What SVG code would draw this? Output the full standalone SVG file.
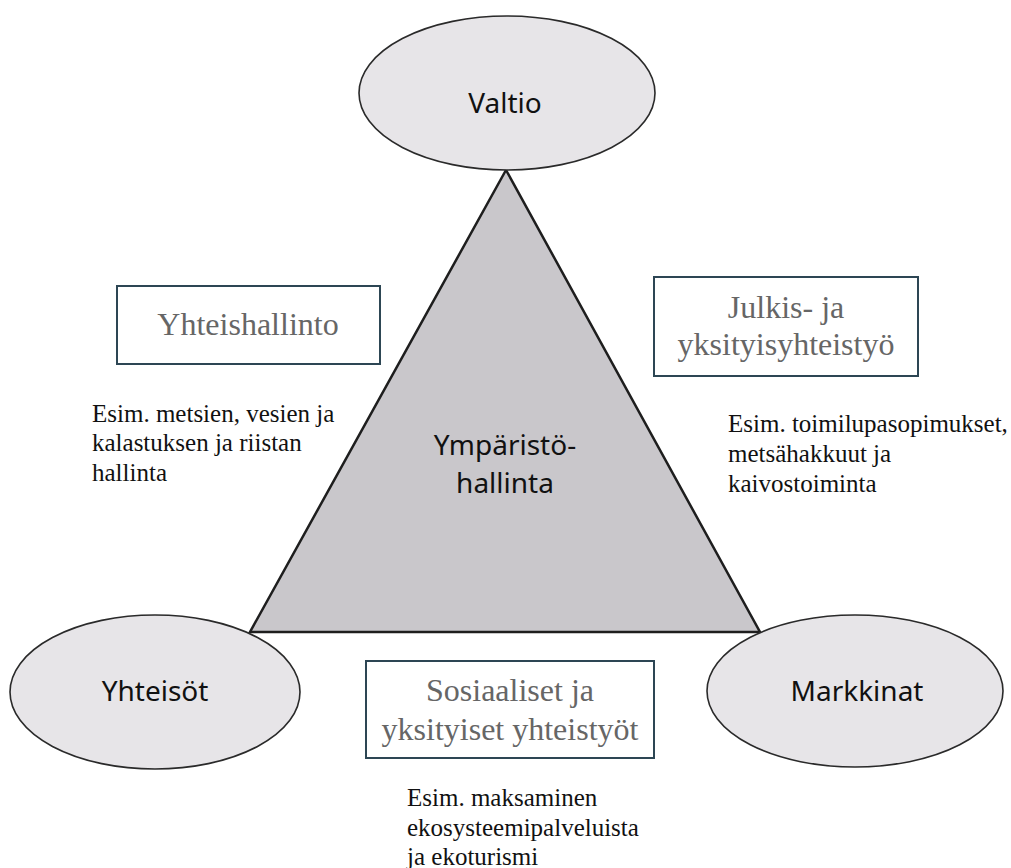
<svg xmlns="http://www.w3.org/2000/svg" width="1011" height="868" viewBox="0 0 1011 868">
<style>
.bg{fill:#ffffff}
.tri{fill:#c9c7cb;stroke:#1e1e1e;stroke-width:2.5;stroke-linejoin:miter}
.ell{fill:#e7e5e8;stroke:#2a2a2a;stroke-width:1.6}
.box{fill:#ffffff;stroke:#2d4654;stroke-width:2}
.lbl{font-family:"Noto Sans","Open Sans",sans-serif;font-size:28px;fill:#111111;text-anchor:middle}
.center{font-family:"Noto Sans","Open Sans",sans-serif;font-size:28px;fill:#111111;text-anchor:middle}
.boxt{font-family:"Liberation Serif","Times New Roman",serif;font-size:32px;fill:#666666;text-anchor:middle}
.body{font-family:"Liberation Serif","Times New Roman",serif;font-size:25px;fill:#111111}
</style>
<rect class="bg" x="0" y="0" width="1011" height="868"/>
<g id="connectors">
<polygon id="triangle" class="tri" points="506,170 760,632 250,632"/>
</g>
<g id="node-ymparistohallinta">
<text class="center" x="505" y="455">Ympäristö-</text>
<text class="center" x="505" y="493">hallinta</text>
</g>
<g id="node-valtio">
<ellipse class="ell" cx="507" cy="93" rx="148" ry="77"/>
<text class="lbl" x="505" y="113">Valtio</text>
</g>
<g id="node-yhteisot">
<ellipse class="ell" cx="155" cy="692" rx="145" ry="77"/>
<text class="lbl" x="155" y="701">Yhteisöt</text>
</g>
<g id="node-markkinat">
<ellipse class="ell" cx="855" cy="691" rx="148" ry="76"/>
<text class="lbl" x="857" y="701">Markkinat</text>
</g>
<g id="node-yhteishallinto">
<rect class="box" x="117" y="286" width="263" height="78"/>
<text class="boxt" x="248" y="335">Yhteishallinto</text>
<text class="body" x="92" y="422">Esim. metsien, vesien ja</text>
<text class="body" x="92" y="451">kalastuksen ja riistan</text>
<text class="body" x="92" y="481">hallinta</text>
</g>
<g id="node-julkis">
<rect class="box" x="654" y="277" width="264" height="99"/>
<text class="boxt" x="786" y="318">Julkis- ja</text>
<text class="boxt" x="786" y="355">yksityisyhteistyö</text>
<text class="body" x="728" y="432">Esim. toimilupasopimukset,</text>
<text class="body" x="728" y="462">metsähakkuut ja</text>
<text class="body" x="728" y="492">kaivostoiminta</text>
</g>
<g id="node-sosiaaliset">
<rect class="box" x="366" y="661" width="288" height="97"/>
<text class="boxt" x="510" y="701">Sosiaaliset ja</text>
<text class="boxt" x="510" y="740">yksityiset yhteistyöt</text>
<text class="body" x="407" y="806">Esim. maksaminen</text>
<text class="body" x="407" y="836">ekosysteemipalveluista</text>
<text class="body" x="407" y="865">ja ekoturismi</text>
</g>
</svg>
